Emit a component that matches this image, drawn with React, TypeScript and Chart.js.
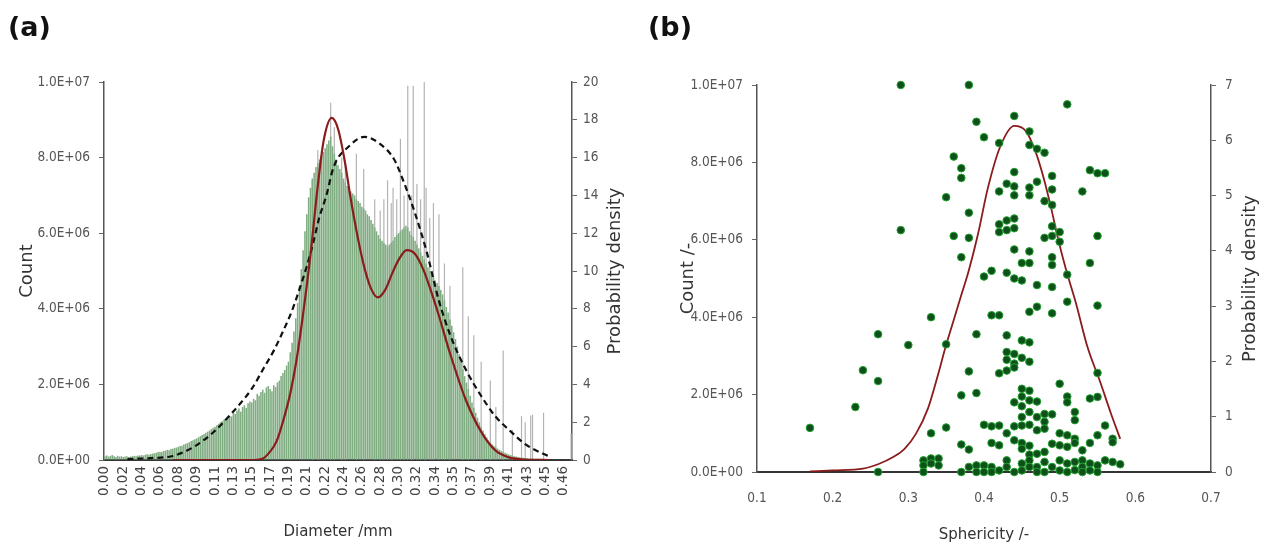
import React, { useEffect, useRef } from 'react';
import Chart from 'chart.js/auto';

// (a) histogram: one bar per diameter bin, tick label every 10th bin
const diameterTicks = [
  '0.00', '0.02', '0.04', '0.06', '0.08', '0.09', '0.11', '0.13', '0.15', '0.17',
  '0.19', '0.21', '0.22', '0.24', '0.26', '0.28', '0.30', '0.32', '0.34', '0.35',
  '0.37', '0.39', '0.41', '0.43', '0.45', '0.46',
];

// counts in units of 1E+06
const binCounts = [
  0.10, 0.12, 0.09, 0.11, 0.13, 0.10, 0.08, 0.11, 0.09, 0.10,
  0.08, 0.09, 0.10, 0.08, 0.09, 0.10, 0.11, 0.10, 0.12, 0.12,
  0.13, 0.12, 0.14, 0.15, 0.14, 0.16, 0.17, 0.18, 0.19, 0.21,
  0.22, 0.21, 0.24, 0.25, 0.27, 0.26, 0.29, 0.30, 0.32, 0.33,
  0.35, 0.37, 0.38, 0.41, 0.43, 0.45, 0.47, 0.50, 0.52, 0.55,
  0.57, 0.60, 0.63, 0.66, 0.69, 0.72, 0.75, 0.78, 0.82, 0.85,
  0.88, 0.92, 0.96, 1.00, 1.03, 1.08, 1.05, 1.12, 1.17, 1.15,
  1.25, 1.22, 1.30, 1.36, 1.28, 1.40, 1.45, 1.38, 1.50, 1.55,
  1.52, 1.62, 1.58, 1.75, 1.70, 1.80, 1.86, 1.78, 1.92, 1.96,
  1.88, 1.82, 1.98, 1.93, 2.05, 2.10, 2.22, 2.30, 2.38, 2.50,
  2.60, 2.85, 3.10, 3.40, 3.75, 4.15, 4.60, 5.05, 5.55, 6.05,
  6.50, 6.95, 7.20, 7.45, 7.60, 7.75, 7.85, 7.95, 8.05, 8.15,
  8.25, 8.35, 8.45, 8.55, 8.30, 8.10, 7.95, 7.80, 7.70, 7.60,
  7.45, 7.35, 7.25, 7.20, 7.10, 7.05, 7.00, 6.90, 6.85, 6.80,
  6.70, 6.65, 6.60, 6.50, 6.45, 6.35, 6.25, 6.15, 6.05, 5.95,
  5.85, 5.80, 5.75, 5.70, 5.65, 5.70, 5.75, 5.80, 5.90, 5.95,
  6.00, 6.05, 6.10, 6.15, 6.20, 6.15, 6.05, 5.95, 5.90, 5.80,
  5.70, 5.60, 5.50, 5.40, 5.30, 5.20, 5.10, 5.00, 4.95, 4.85,
  4.75, 4.68, 4.60, 4.50, 4.38, 4.22, 4.05, 3.90, 3.72, 3.55,
  3.38, 3.20, 3.00, 2.80, 2.60, 2.40, 2.22, 2.05, 1.88, 1.70,
  1.52, 1.38, 1.25, 1.12, 1.00, 0.88, 0.78, 0.68, 0.60, 0.52,
  0.46, 0.41, 0.37, 0.33, 0.30, 0.27, 0.24, 0.21, 0.19, 0.17,
  0.15, 0.13, 0.12, 0.10, 0.09, 0.08, 0.07, 0.06, 0.06, 0.05,
  0.05, 0.04, 0.04, 0.04, 0.03, 0.03, 0.03, 0.03, 0.02, 0.02,
  0.02, 0.01, 0.01, 0.01, 0.01, 0.01, 0.01, 0.01, 0.01, 0.01,
  0.01, 0.01, 0.01, 0.01, 0.01,
];

// grey bins that stand out above the green histogram
const spikeBins = [
  113, 116, 123, 125, 129, 131, 137, 141, 147, 150, 152, 154, 156, 157, 159, 161,
  163, 165, 167, 168, 170, 172, 174, 175, 177, 179, 182, 185, 188, 195, 198, 201,
  205, 210, 213, 217, 222, 227, 229, 232, 233, 239, 254,
];
const spikeCounts = [
  7.4, 8.2, 9.45, 8.8, 8.0, 7.9, 8.1, 7.7, 6.9, 6.6, 6.9, 7.4, 6.8, 7.2, 6.9, 8.5,
  7.0, 9.9, 7.0, 9.9, 7.3, 6.9, 10.0, 7.2, 6.4, 6.8, 6.5, 5.2, 4.6, 5.1, 3.8, 3.3,
  2.6, 2.1, 1.4, 2.9, 0.8, 1.16, 1.0, 1.18, 1.2, 1.25, 0.7,
];

// bimodal fit (solid) and normal fit (dashed), probability density vs diameter (mm)
const bimodalDiameter = [
  0.05, 0.10, 0.140, 0.150, 0.157, 0.165, 0.173, 0.180, 0.187, 0.195, 0.203, 0.210,
  0.217, 0.226, 0.233, 0.240, 0.247, 0.255, 0.263, 0.270, 0.277, 0.285, 0.293, 0.300,
  0.309, 0.318, 0.327, 0.336, 0.344, 0.357, 0.374, 0.391, 0.407, 0.421, 0.439, 0.466,
];
const bimodalDensity = [
  0, 0, 0, 0.08, 0.4, 1.0, 2.2, 3.5, 5.3, 8.0, 11.1, 14.3,
  16.9, 18.1, 17.5, 15.9, 13.8, 11.7, 10.0, 9.0, 8.6, 9.0, 9.9, 10.6,
  11.1, 10.9, 10.1, 8.9, 7.7, 5.6, 3.2, 1.5, 0.5, 0.15, 0.02, 0,
];
const normalDiameter = [
  0.000, 0.026, 0.049, 0.066, 0.083, 0.098, 0.112, 0.125, 0.138, 0.150, 0.162, 0.172,
  0.182, 0.190, 0.198, 0.205, 0.212, 0.220, 0.228, 0.245, 0.262, 0.280, 0.295, 0.304,
  0.317, 0.331, 0.344, 0.357, 0.374, 0.391, 0.407, 0.424, 0.441, 0.461, 0.466,
];
const normalDensity = [
  0.05, 0.1, 0.2, 0.5, 1.0, 1.6, 2.3, 3.0, 3.8, 4.8, 5.8, 6.8,
  7.9, 9.0, 10.2, 11.4, 12.8, 14.0, 15.5, 16.6, 17.1, 16.7, 15.9, 14.9,
  13.2, 11.0, 8.5, 6.6, 4.8, 3.4, 2.3, 1.5, 0.8, 0.3, 0.2,
];

// (b) scatter: [sphericity, count in 1E+06]
const sphericityPoints: [number, number][] = [
  [0.29, 10.0], [0.38, 10.0], [0.51, 9.5], [0.44, 9.2], [0.39, 9.05], [0.40, 8.65],
  [0.42, 8.5], [0.46, 8.8], [0.46, 8.45], [0.47, 8.35], [0.48, 8.25], [0.36, 8.15],
  [0.37, 7.85], [0.37, 7.6], [0.44, 7.75], [0.49, 7.65], [0.54, 7.8], [0.55, 7.72],
  [0.56, 7.72], [0.35, 7.1], [0.42, 7.25], [0.43, 7.45], [0.44, 7.38], [0.44, 7.15],
  [0.46, 7.35], [0.46, 7.15], [0.47, 7.5], [0.49, 7.3], [0.48, 7.0], [0.49, 6.9],
  [0.53, 7.25], [0.29, 6.25], [0.38, 6.7], [0.36, 6.1], [0.38, 6.05], [0.42, 6.4],
  [0.43, 6.5], [0.42, 6.2], [0.43, 6.25], [0.44, 6.55], [0.44, 6.3], [0.49, 6.35],
  [0.50, 6.2], [0.50, 5.95], [0.48, 6.05], [0.49, 6.1], [0.55, 6.1], [0.44, 5.75],
  [0.37, 5.55], [0.46, 5.7], [0.46, 5.4], [0.49, 5.55], [0.49, 5.35], [0.43, 5.15],
  [0.44, 5.0], [0.45, 4.95], [0.40, 5.05], [0.41, 5.2], [0.45, 5.4], [0.54, 5.4],
  [0.51, 5.1], [0.47, 4.83], [0.49, 4.78], [0.51, 4.4], [0.55, 4.3], [0.46, 4.14],
  [0.47, 4.27], [0.49, 4.1], [0.41, 4.05], [0.42, 4.05], [0.33, 4.0], [0.26, 3.56],
  [0.39, 3.56], [0.43, 3.53], [0.35, 3.3], [0.30, 3.28], [0.45, 3.4], [0.46, 3.35],
  [0.43, 3.1], [0.44, 3.05], [0.45, 2.95], [0.43, 2.9], [0.46, 2.85], [0.44, 2.8],
  [0.24, 2.63], [0.26, 2.35], [0.38, 2.6], [0.42, 2.55], [0.43, 2.62], [0.44, 2.7],
  [0.55, 2.56], [0.50, 2.28], [0.37, 1.98], [0.39, 2.04], [0.45, 2.15], [0.46, 2.1],
  [0.45, 1.95], [0.46, 1.85], [0.44, 1.8], [0.45, 1.7], [0.47, 1.82], [0.51, 1.95],
  [0.51, 1.8], [0.54, 1.9], [0.55, 1.94], [0.23, 1.68], [0.48, 1.5], [0.49, 1.49],
  [0.52, 1.55], [0.52, 1.34], [0.46, 1.55], [0.47, 1.42], [0.48, 1.3], [0.45, 1.42],
  [0.17, 1.14], [0.35, 1.15], [0.40, 1.22], [0.41, 1.18], [0.42, 1.2], [0.44, 1.18],
  [0.45, 1.2], [0.46, 1.22], [0.47, 1.08], [0.48, 1.12], [0.56, 1.2], [0.33, 1.0],
  [0.43, 1.0], [0.50, 1.0], [0.51, 0.95], [0.52, 0.86], [0.55, 0.95], [0.57, 0.86],
  [0.57, 0.77], [0.44, 0.82], [0.45, 0.75], [0.46, 0.68], [0.45, 0.6], [0.37, 0.71],
  [0.38, 0.58], [0.41, 0.75], [0.42, 0.69], [0.49, 0.73], [0.50, 0.69], [0.51, 0.65],
  [0.52, 0.75], [0.53, 0.56], [0.54, 0.75], [0.46, 0.45], [0.47, 0.47], [0.48, 0.52],
  [0.26, 0], [0.32, 0.3], [0.32, 0.17], [0.32, 0], [0.33, 0.35], [0.33, 0.22],
  [0.34, 0.35], [0.34, 0.17], [0.37, 0], [0.38, 0.13], [0.39, 0.17], [0.40, 0.17],
  [0.41, 0.13], [0.41, 0], [0.42, 0.04], [0.43, 0.3], [0.43, 0.13], [0.44, 0],
  [0.45, 0.22], [0.46, 0.3], [0.46, 0.13], [0.47, 0.13], [0.48, 0.26], [0.48, 0],
  [0.49, 0.13], [0.50, 0.3], [0.50, 0.04], [0.51, 0.22], [0.52, 0.26], [0.53, 0.3],
  [0.53, 0.13], [0.53, 0], [0.54, 0.22], [0.54, 0.04], [0.55, 0.17], [0.55, 0],
  [0.56, 0.3], [0.57, 0.26], [0.58, 0.2], [0.47, 0], [0.51, 0], [0.52, 0.05],
  [0.45, 0.04], [0.40, 0], [0.39, 0],
];

const sphericityFitX = [
  0.17, 0.20, 0.24, 0.26, 0.28, 0.295, 0.31, 0.326, 0.338, 0.35, 0.36, 0.37, 0.38, 0.392,
  0.405, 0.421, 0.44, 0.455, 0.468, 0.479, 0.489, 0.497, 0.508, 0.521, 0.537, 0.553, 0.568, 0.58,
];
const sphericityFitY = [
  0.01, 0.03, 0.06, 0.14, 0.27, 0.42, 0.69, 1.15, 1.7, 2.3, 2.75, 3.2, 3.65, 4.3,
  5.13, 5.87, 6.26, 6.17, 5.8, 5.31, 4.76, 4.27, 3.68, 3.08, 2.25, 1.65, 1.05, 0.6,
];

const narrow = '"Liberation Sans Narrow", "DejaVu Sans Condensed", "Liberation Sans", Arial, sans-serif';
const sans = '"DejaVu Sans", "Open Sans", sans-serif';
const fitRed = '#8b1c1c';

// 8 -> 8.0E+06 (values are stored in millions)
const sci = (v: number) => {
  if (v === 0) return '0.0E+00';
  const n = v * 1e6;
  const e = Math.floor(Math.log10(n) + 1e-9);
  return (n / Math.pow(10, e)).toFixed(1) + 'E+' + String(e).padStart(2, '0');
};

// right-hand axis title, reading bottom to top like the left one
const rightTitle = (text: string, x: number) => ({
  id: 'rightTitle',
  afterDraw(chart: any) {
    const { ctx, chartArea } = chart;
    ctx.save();
    ctx.translate(x, (chartArea.top + chartArea.bottom) / 2);
    ctx.rotate(-Math.PI / 2);
    ctx.font = `18px ${sans}`;
    ctx.fillStyle = '#333';
    ctx.textAlign = 'center';
    ctx.textBaseline = 'middle';
    ctx.fillText(text, 0, 0);
    ctx.restore();
  },
});

const yTicks = { font: { family: narrow, size: 13.5 }, color: '#555' };
const yGrid = { drawOnChartArea: false, tickLength: 5, color: '#666' };
const yBorder = { color: '#555', width: 1.5 };

function histogramConfig(): any {
  const spikes: (number | null)[] = binCounts.map(() => null);
  spikeBins.forEach((b, i) => { spikes[b] = spikeCounts[i]; });

  return {
    type: 'bar',
    data: {
      labels: binCounts.map((_, i) => String(i)),
      datasets: [
        {
          type: 'line',
          data: bimodalDiameter.map((x, i) => ({ x, y: bimodalDensity[i] })),
          xAxisID: 'xl',
          yAxisID: 'yd',
          borderColor: fitRed,
          borderWidth: 2.2,
          pointRadius: 0,
          cubicInterpolationMode: 'monotone',
          order: 0,
        },
        {
          type: 'line',
          data: normalDiameter.map((x, i) => ({ x, y: normalDensity[i] })),
          xAxisID: 'xl',
          yAxisID: 'yd',
          borderColor: '#111',
          borderWidth: 2.2,
          borderDash: [6, 4],
          pointRadius: 0,
          cubicInterpolationMode: 'monotone',
          order: 0,
        },
        {
          data: binCounts,
          xAxisID: 'x',
          yAxisID: 'y',
          backgroundColor: '#80ad82',
          barPercentage: 0.85,
          categoryPercentage: 1,
          grouped: false,
          order: 1,
        },
        {
          data: spikes,
          xAxisID: 'x',
          yAxisID: 'y',
          backgroundColor: '#b3b3b3',
          barPercentage: 0.65,
          categoryPercentage: 1,
          grouped: false,
          order: 2,
        },
      ],
    },
    options: {
      animation: false,
      responsive: true,
      maintainAspectRatio: false,
      layout: { padding: { top: 82 } },
      plugins: { legend: { display: false }, tooltip: { enabled: false } },
      scales: {
        x: {
          ticks: {
            autoSkip: false,
            minRotation: 90,
            maxRotation: 90,
            padding: 6,
            font: { family: sans, size: 13.5 },
            color: '#444',
            callback: (_v: any, i: number) => (i % 10 === 0 ? diameterTicks[i / 10] : ''),
          },
          grid: { display: false, drawTicks: false },
          border: { color: '#333', width: 2 },
          title: {
            display: true,
            text: 'Diameter /mm',
            font: { family: sans, size: 15 },
            color: '#333',
            padding: { top: 0, bottom: 9 },
          },
          afterFit: (s: any) => { s.height = 90; },
        },
        xl: { type: 'linear', display: false, min: 0, max: 0.4657 },
        y: {
          position: 'left',
          min: 0,
          max: 10,
          ticks: { ...yTicks, stepSize: 2, padding: 9, callback: (v: any) => sci(Number(v)) },
          grid: yGrid,
          border: yBorder,
          title: {
            display: true,
            text: 'Count',
            font: { family: sans, size: 18 },
            color: '#333',
            padding: { top: 17, bottom: 0 },
          },
          afterFit: (s: any) => { s.width = 104; },
        },
        yd: {
          position: 'right',
          min: 0,
          max: 20,
          ticks: { ...yTicks, stepSize: 2, padding: 6 },
          grid: yGrid,
          border: yBorder,
          afterFit: (s: any) => { s.width = 68; },
        },
      },
    },
    plugins: [rightTitle('Probability density', 615)],
  };
}

function scatterConfig(): any {
  return {
    type: 'scatter',
    data: {
      datasets: [
        {
          data: sphericityPoints.map(([x, y]) => ({ x, y })),
          yAxisID: 'y',
          pointRadius: 3.8,
          backgroundColor: '#0f4f1c',
          borderColor: '#22a12d',
          borderWidth: 1,
          clip: false,
          order: 0,
        },
        {
          type: 'line',
          data: sphericityFitX.map((x, i) => ({ x, y: sphericityFitY[i] })),
          yAxisID: 'yd',
          borderColor: fitRed,
          borderWidth: 1.8,
          pointRadius: 0,
          cubicInterpolationMode: 'monotone',
          order: 1,
        },
      ],
    },
    options: {
      animation: false,
      responsive: true,
      maintainAspectRatio: false,
      layout: { padding: { top: 85 } },
      plugins: { legend: { display: false }, tooltip: { enabled: false } },
      scales: {
        x: {
          type: 'linear',
          min: 0.1,
          max: 0.7,
          ticks: {
            stepSize: 0.1,
            padding: 18,
            font: { family: narrow, size: 13.5 },
            color: '#555',
            callback: (v: any) => Number(v).toFixed(1),
          },
          grid: { display: false, drawTicks: false },
          border: { color: '#333', width: 2 },
          title: {
            display: true,
            text: 'Sphericity /-',
            font: { family: sans, size: 15 },
            color: '#333',
            padding: { top: 0, bottom: 6 },
          },
          afterFit: (s: any) => { s.height = 78; },
        },
        y: {
          position: 'left',
          min: 0,
          max: 10,
          ticks: { ...yTicks, stepSize: 2, padding: 9, callback: (v: any) => sci(Number(v)) },
          grid: yGrid,
          border: yBorder,
          title: {
            display: true,
            text: 'Count /-',
            font: { family: sans, size: 18 },
            color: '#333',
            padding: { top: 38, bottom: 0 },
          },
          afterFit: (s: any) => { s.width = 117; },
        },
        yd: {
          position: 'right',
          min: 0,
          max: 7,
          ticks: { ...yTicks, stepSize: 1, padding: 9 },
          grid: yGrid,
          border: yBorder,
          afterFit: (s: any) => { s.width = 55; },
        },
      },
    },
    plugins: [rightTitle('Probability density', 610)],
  };
}

const ChartCanvas: React.FC<{ makeConfig: () => any }> = ({ makeConfig }) => {
  const canvasRef = useRef<HTMLCanvasElement>(null);

  useEffect(() => {
    if (!canvasRef.current) return;
    const chart = new Chart(canvasRef.current, makeConfig());
    return () => chart.destroy();
  }, [makeConfig]);

  return <canvas ref={canvasRef}></canvas>;
};

const panelLabel: React.CSSProperties = {
  position: 'absolute',
  top: 13,
  font: `bold 27px ${sans}`,
  lineHeight: '27px',
  color: '#111',
};

export default function App() {
  return (
    <div style={{ position: 'absolute', left: 0, top: 0, width: 1266, height: 550, background: '#fff' }}>
      <div style={{ position: 'absolute', left: 0, top: 0, width: 640, height: 550 }}>
        <ChartCanvas makeConfig={histogramConfig} />
      </div>
      <div style={{ position: 'absolute', left: 640, top: 0, width: 626, height: 550 }}>
        <ChartCanvas makeConfig={scatterConfig} />
      </div>
      <div style={{ ...panelLabel, left: 8 }}>(a)</div>
      <div style={{ ...panelLabel, left: 648 }}>(b)</div>
    </div>
  );
}
